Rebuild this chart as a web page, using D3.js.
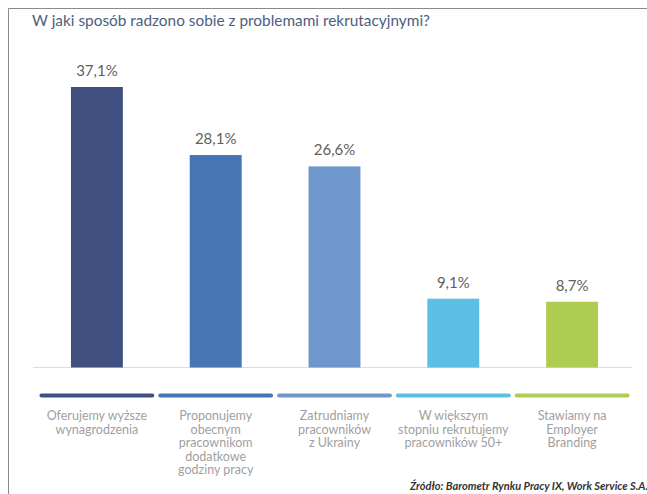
<!DOCTYPE html>
<html>
<head>
<meta charset="utf-8">
<script src="https://cdn.jsdelivr.net/npm/d3@7"></script>
<style>
  body { margin: 0; background: #fff; }
</style>
</head>
<body>
<div id="chart"></div>
<script>
const TITLE = "W jaki sposób radzono sobie z problemami rekrutacyjnymi?";
const SOURCE = "Źródło: Barometr Rynku Pracy IX, Work Service S.A.";

const categories = ["wynagrodzenia", "godziny", "ukraina", "50plus", "branding"];
const values = [37.1, 28.1, 26.6, 9.1, 8.7];
const valueLabels = ["37,1%", "28,1%", "26,6%", "9,1%", "8,7%"];
const categoryLabels = [
  ["Oferujemy wyższe", "wynagrodzenia"],
  ["Proponujemy", "obecnym", "pracownikom", "dodatkowe", "godziny pracy"],
  ["Zatrudniamy", "pracowników", "z Ukrainy"],
  ["W większym", "stopniu rekrutujemy", "pracowników 50+"],
  ["Stawiamy na", "Employer", "Branding"]
];
const barColors = ["#3f5080", "#4674b5", "#6e98cb", "#5bbfe3", "#afcc52"];

const WIDTH = 647, HEIGHT = 494;
const BASE_Y = 367.5;

const svg = d3.select("#chart")
  .append("svg")
  .attr("width", WIDTH)
  .attr("height", HEIGHT)
  .style("font-family", "Lato, 'Open Sans', sans-serif");

// frame
svg.append("path")
  .attr("d", `M8.5,${HEIGHT} V8.5 H${WIDTH}`)
  .attr("fill", "none")
  .attr("stroke", "#8a8a8a")
  .attr("stroke-width", 1);

svg.append("text")
  .attr("x", 32)
  .attr("y", 26)
  .attr("textLength", 398)
  .attr("lengthAdjust", "spacingAndGlyphs")
  .style("font-size", "16px")
  .style("fill", "#4d5e80")
  .text(TITLE);

const x = d3.scaleBand()
  .domain(categories)
  .range([37.5, 631.5])
  .paddingInner(0.563)
  .paddingOuter(0.2815);

const y = d3.scaleLinear()
  .domain([0, 37.1])
  .range([BASE_Y, 87]);

// baseline
svg.append("line")
  .attr("x1", 33).attr("x2", 632)
  .attr("y1", BASE_Y).attr("y2", BASE_Y)
  .attr("stroke", "#dcdcdc")
  .attr("stroke-width", 1);

svg.selectAll(".bar")
  .data(values)
  .enter()
  .append("rect")
  .attr("class", "bar")
  .attr("x", (d, i) => x(categories[i]))
  .attr("y", (d) => y(d))
  .attr("width", x.bandwidth())
  .attr("height", (d) => BASE_Y - y(d))
  .attr("fill", (d, i) => barColors[i]);

svg.selectAll(".val")
  .data(values)
  .enter()
  .append("text")
  .attr("class", "val")
  .attr("x", (d, i) => x(categories[i]) + x.bandwidth() / 2)
  .attr("y", (d) => y(d) - 11)
  .attr("text-anchor", "middle")
  .style("font-size", "15px")
  .style("fill", "#5f5f5f")
  .text((d, i) => valueLabels[i]);

// colored strips under the axis
const step = x.step();
svg.selectAll(".strip")
  .data(categories)
  .enter()
  .append("rect")
  .attr("class", "strip")
  .attr("x", (d) => x(d) + x.bandwidth() / 2 - step / 2 + 2)
  .attr("y", 393.5)
  .attr("width", step - 4)
  .attr("height", 4)
  .attr("rx", 2)
  .attr("fill", (d, i) => barColors[i]);

// category labels
const labels = svg.selectAll(".cat")
  .data(categories)
  .enter()
  .append("text")
  .attr("class", "cat")
  .attr("text-anchor", "middle")
  .style("font-size", "12.5px")
  .style("fill", "#9f9f9f");

labels.each(function (d, i) {
  const t = d3.select(this);
  categoryLabels[i].forEach((line, j) => {
    t.append("tspan")
      .attr("x", x(d) + x.bandwidth() / 2)
      .attr("y", 420 + j * 13.5)
      .text(line);
  });
});

svg.append("text")
  .attr("x", 410)
  .attr("y", 490)
  .style("font-size", "11px")
  .style("font-weight", "bold")
  .style("font-style", "italic")
  .style("fill", "#333")
  .text(SOURCE);
</script>
</body>
</html>
